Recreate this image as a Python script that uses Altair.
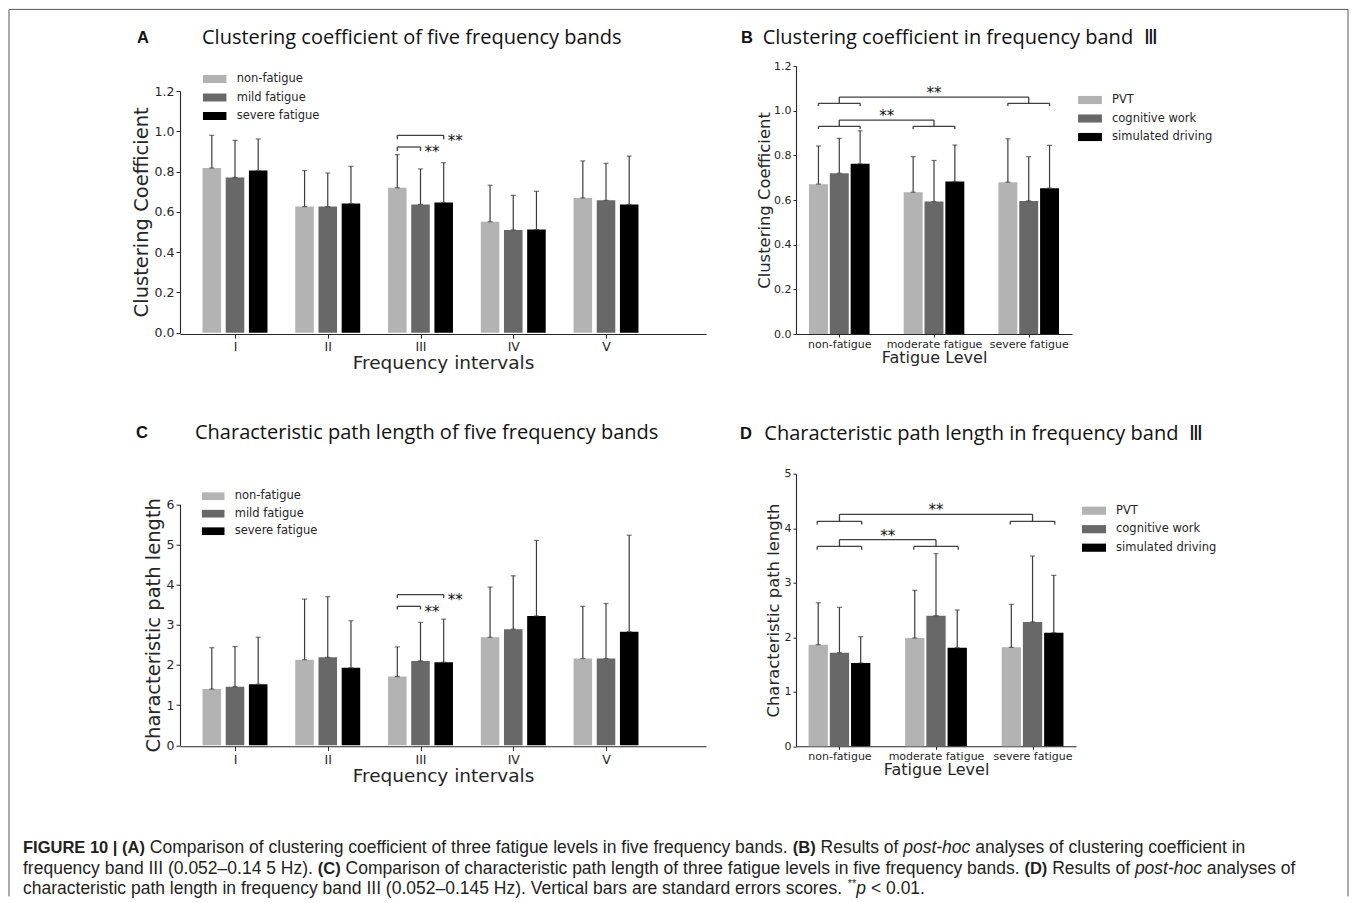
import json
import altair as alt
import pandas as pd

# ---------------------------------------------------------------- data
bands = ["I", "II", "III", "IV", "V"]
fatigue_levels = ["non-fatigue", "mild fatigue", "severe fatigue"]

# (A) clustering coefficient: mean and standard error, bands I..V
cc_non_mean = [0.818, 0.626, 0.720, 0.551, 0.669]
cc_non_se = [0.162, 0.179, 0.164, 0.181, 0.184]
cc_mild_mean = [0.770, 0.626, 0.637, 0.510, 0.657]
cc_mild_se = [0.185, 0.167, 0.176, 0.172, 0.184]
cc_severe_mean = [0.805, 0.641, 0.646, 0.512, 0.636]
cc_severe_se = [0.157, 0.185, 0.198, 0.190, 0.241]

# (C) characteristic path length: mean and standard error, bands I..V
pl_non_mean = [1.40, 2.13, 1.71, 2.69, 2.16]
pl_non_se = [1.03, 1.51, 0.74, 1.25, 1.30]
pl_mild_mean = [1.46, 2.19, 2.10, 2.89, 2.16]
pl_mild_se = [1.00, 1.51, 0.96, 1.33, 1.37]
pl_severe_mean = [1.52, 1.93, 2.07, 3.22, 2.83]
pl_severe_se = [1.17, 1.17, 1.07, 1.88, 2.40]

# (B), (D) frequency band III by fatigue level and task
levels3 = ["non-fatigue", "moderate fatigue", "severe fatigue"]
tasks = ["PVT", "cognitive work", "simulated driving"]
ccIII_pvt_mean = [0.671, 0.635, 0.680]
ccIII_pvt_se = [0.171, 0.159, 0.194]
ccIII_cog_mean = [0.720, 0.593, 0.596]
ccIII_cog_se = [0.156, 0.184, 0.198]
ccIII_sim_mean = [0.762, 0.683, 0.653]
ccIII_sim_se = [0.148, 0.163, 0.192]
plIII_pvt_mean = [1.864, 1.987, 1.815]
plIII_pvt_se = [0.770, 0.874, 0.789]
plIII_cog_mean = [1.718, 2.396, 2.280]
plIII_cog_se = [0.831, 1.137, 1.210]
plIII_sim_mean = [1.528, 1.809, 2.084]
plIII_sim_se = [0.483, 0.691, 1.052]

# significance marks
sig_label = "**"
# within band III: (series a, series b, bracket level)
sig_A = [("non-fatigue", "severe fatigue", 0.980), ("non-fatigue", "mild fatigue", 0.922)]
sig_C = [("non-fatigue", "severe fatigue", 3.75), ("non-fatigue", "mild fatigue", 3.46)]
# between fatigue levels: (level a, level b, sub-bracket level, top level)
sig_B = [("non-fatigue", "severe fatigue", 1.033, 1.061),
         ("non-fatigue", "moderate fatigue", 0.930, 0.958)]
sig_D = [("non-fatigue", "severe fatigue", 4.126, 4.254),
         ("non-fatigue", "moderate fatigue", 3.667, 3.790)]

titles = {
    "A": "Clustering coefficient of five frequency bands",
    "B": "Clustering coefficient in frequency band\u00a0 \u2162",
    "C": "Characteristic path length of five frequency bands",
    "D": "Characteristic path length in frequency band\u00a0 \u2162",
}

caption_lines = [
    [("bold", "FIGURE 10 | (A)"),
     ("regular", "Comparison of clustering coefficient of three fatigue levels in five frequency bands."),
     ("bold", "(B)"), ("regular", "Results of"), ("italic", "post-hoc"),
     ("regular", "analyses of clustering coefficient in")],
    [("regular", "frequency band III (0.052\u20130.14 5 Hz)."), ("bold", "(C)"),
     ("regular", "Comparison of characteristic path length of three fatigue levels in five frequency bands."),
     ("bold", "(D)"), ("regular", "Results of"), ("italic", "post-hoc"), ("regular", "analyses of")],
    [("regular", "characteristic path length in frequency band III (0.052\u20130.145 Hz). Vertical bars are standard errors scores."),
     ("sup", "**"), ("italic", "p"), ("regular", "< 0.01.")],
]

# ---------------------------------------------------------------- style / layout
GREYS = ["#b3b3b3", "#686868", "#000000"]
FONT = "DejaVu Sans"
TITLE_FONT = "Open Sans"
INK = "#262626"
ERR = "#3c3c3c"
RECT = "M-1,-0.34H1V0.34H-1Z"

# caption typography (Liberation Sans = Arial metrics, widths per 1000 em)
CAP_FONT = "Liberation Sans"
CAP_SIZE = {"regular": 17.5, "italic": 17.5, "bold": 16.5, "sup": 11}
_REG = {" ": 278, "(": 333, ")": 333, ".": 278, "-": 333, "\u2013": 556, "|": 260,
        "<": 584, "*": 389, ",": 278}
for _c in "0123456789":
    _REG[_c] = 556
_REG.update({"A": 667, "B": 667, "C": 722, "D": 722, "E": 667, "F": 611, "G": 778,
             "H": 722, "I": 278, "R": 722, "U": 722, "V": 667,
             "a": 556, "b": 556, "c": 500, "d": 556, "e": 556, "f": 278, "g": 556,
             "h": 556, "i": 222, "k": 500, "l": 222, "m": 833, "n": 556, "o": 556,
             "p": 556, "q": 556, "r": 333, "s": 500, "t": 278, "u": 556, "v": 500,
             "w": 722, "y": 500, "z": 500})
_BOLD = dict(_REG)
_BOLD.update({"A": 722, "B": 722, "C": 722, "D": 722, "|": 280})


def text_width(txt, style):
    table = _BOLD if style == "bold" else _REG
    return sum(table.get(ch, 556) for ch in txt) / 1000.0 * CAP_SIZE[style]


# page positions for the caption and the frame (caption cell origin on the page)
CAP_X0, CAP_Y0 = 179, 885
CAP_LEFT = 22
cap_line_y = [846.7, 867.3, 887.7]


def grouped_df(groups, series, means, ses, step, bar_w):
    rows = []
    for k, name in enumerate(series):
        for i, g in enumerate(groups):
            pos = i + (k - 1) * step
            rows.append(dict(series=name, group=g, pos=pos,
                             x0=pos - bar_w / 2, x1=pos + bar_w / 2,
                             base=0.0, mean=means[k][i], top=means[k][i] + ses[k][i]))
    return pd.DataFrame(rows)


def within_brackets(series, sig, step, band_index, tick):
    segs, stars = [], []
    off = {s: (k - 1) * step for k, s in enumerate(series)}
    for a, b, lev in sig:
        xa, xb = band_index + off[a], band_index + off[b]
        segs += [dict(x=xa, x2=xb, y=lev, y2=lev),
                 dict(x=xa, x2=xa, y=lev, y2=lev - tick),
                 dict(x=xb, x2=xb, y=lev, y2=lev - tick)]
        stars.append(dict(x=xb, y=lev, t=sig_label))
    return pd.DataFrame(segs), pd.DataFrame(stars)


def between_brackets(groups, sig, half, tick):
    segs, stars = [], []
    for a, b, low, high in sig:
        ga, gb = groups.index(a), groups.index(b)
        for g in (ga, gb):
            segs += [dict(x=g - half, x2=g + half, y=low, y2=low),
                     dict(x=g - half, x2=g - half, y=low, y2=low - tick),
                     dict(x=g + half, x2=g + half, y=low, y2=low - tick),
                     dict(x=g, x2=g, y=low, y2=high)]
        segs.append(dict(x=ga, x2=gb, y=high, y2=high))
        stars.append(dict(x=(ga + gb) / 2, y=high, t=sig_label))
    return pd.DataFrame(segs), pd.DataFrame(stars)


def panel(df, groups, series, cfg, br_df, st_df, letter, title):
    xaxis = alt.Axis(values=list(range(len(groups))),
                     labelExpr=json.dumps(groups) + "[datum.value]",
                     title=cfg["xtitle"], grid=False, labelFlush=False, labelOverlap=False,
                     tickSize=cfg["tick"], tickColor=INK, tickWidth=1, domainColor=INK,
                     domainWidth=1.1, labelFont=FONT, labelFontSize=cfg["fs_tick"],
                     labelColor=INK, labelPadding=cfg["xlp"], titleFont=FONT,
                     titleFontSize=cfg["fs_xtitle"], titleFontWeight="normal",
                     titleColor=INK, titlePadding=cfg["xtp"])
    yaxis = alt.Axis(values=cfg["yvals"], format=cfg["yfmt"], title=cfg["ytitle"],
                     grid=False, labelFlush=False, labelOverlap=False,
                     tickSize=cfg["tick"], tickColor=INK, tickWidth=1, domainColor=INK,
                     domainWidth=1.1, labelFont=FONT, labelFontSize=cfg["fs_tick"],
                     labelColor=INK, labelPadding=2, titleFont=FONT,
                     titleFontSize=cfg["fs_ytitle"], titleFontWeight="normal",
                     titleColor=INK, titlePadding=cfg["ytp"])
    xs = alt.Scale(domain=cfg["xdom"], nice=False, zero=False)
    ysk = dict(domain=cfg["ydom"], nice=False, zero=False)
    if cfg.get("yrange"):
        ysk["range"] = cfg["yrange"]
    ys = alt.Scale(**ysk)

    def X(f):
        return alt.X(f"{f}:Q", scale=xs, axis=xaxis)

    def Y(f):
        return alt.Y(f"{f}:Q", scale=ys, axis=yaxis)

    legend = alt.Legend(orient="none", legendX=cfg["legx"], legendY=cfg["legy"], title=None,
                        symbolType=RECT, symbolSize=cfg["symsize"], symbolStrokeWidth=0,
                        labelFont=FONT, labelFontSize=11.5, labelColor=INK,
                        rowPadding=cfg["rowpad"], labelOffset=cfg["laboff"], padding=0)
    base = alt.Chart(df)
    bars = base.mark_bar().encode(
        x=X("x0"), x2="x1", y=Y("mean"), y2="base",
        color=alt.Color("series:N", scale=alt.Scale(domain=series, range=GREYS),
                        sort=series, legend=legend))
    err = base.mark_rule(color=ERR, strokeWidth=1.2).encode(x=X("pos"), y=Y("mean"), y2="top")
    cap_top = base.mark_tick(orient="horizontal", size=5, thickness=1.2, color=ERR).encode(
        x=X("pos"), y=Y("top"))
    cap_bot = base.mark_tick(orient="horizontal", size=5, thickness=1.2, color=ERR).encode(
        x=X("pos"), y=Y("mean"))
    br = alt.Chart(br_df).mark_rule(color="#404040", strokeWidth=1.3).encode(
        x=X("x"), x2="x2", y=Y("y"), y2="y2")
    st = alt.Chart(st_df).mark_text(font=FONT, fontSize=15, color="#111111",
                                    align=cfg["star_align"], baseline="alphabetic",
                                    dx=cfg["star_dx"], dy=cfg["star_dy"]).encode(
        x=X("x"), y=Y("y"), text="t:N")
    let = alt.Chart(pd.DataFrame({"t": [letter]})).mark_text(
        font="Liberation Sans", fontWeight="bold", fontSize=16.5, color="#111111",
        align="center", baseline="middle").encode(
        x=alt.value(cfg["letter_xy"][0]), y=alt.value(cfg["letter_xy"][1]), text="t:N")
    ttl = alt.Chart(pd.DataFrame({"t": [title]})).mark_text(
        font=TITLE_FONT, fontSize=20, color="#111111", align="left", baseline="middle").encode(
        x=alt.value(cfg["title_xy"][0]), y=alt.value(cfg["title_xy"][1]), text="t:N")
    return alt.layer(bars, err, cap_top, cap_bot, br, st, let, ttl).properties(
        width=cfg["width"], height=cfg["height"])


# ---- panel A
dfA = grouped_df(bands, fatigue_levels,
                 [cc_non_mean, cc_mild_mean, cc_severe_mean],
                 [cc_non_se, cc_mild_se, cc_severe_se], 0.25, 0.2)
brA, stA = within_brackets(fatigue_levels, sig_A, 0.25, bands.index("III"), 0.02)
cfgA = dict(xdom=[-0.593, 5.078], ydom=[0, 1.2], yrange=[266.7, 25], width=526, height=268,
            yvals=[0, 0.2, 0.4, 0.6, 0.8, 1.0, 1.2], yfmt=".1f",
            xtitle="Frequency intervals", ytitle="Clustering Coefficient",
            fs_tick=12.5, fs_xtitle=18.5, fs_ytitle=19.5, tick=4, xlp=2.5, xtp=0, ytp=2.5,
            legx=22.7, legy=1, symsize=552, rowpad=0.5, laboff=10,
            star_align="left", star_dx=4, star_dy=10.5,
            letter_xy=(-37, -28.3), title_xy=(22, -28.3))
A = panel(dfA, bands, fatigue_levels, cfgA, brA, stA, "A", titles["A"])

# ---- panel B
dfB = grouped_df(levels3, tasks,
                 [ccIII_pvt_mean, ccIII_cog_mean, ccIII_sim_mean],
                 [ccIII_pvt_se, ccIII_cog_se, ccIII_sim_se], 0.22, 0.2)
brB, stB = between_brackets(levels3, sig_B, 0.22, 0.012)
cfgB = dict(xdom=[-0.457, 2.457], ydom=[0, 1.2], width=276, height=268,
            yvals=[0, 0.2, 0.4, 0.6, 0.8, 1.0, 1.2], yfmt=".1f",
            xtitle="Fatigue Level", ytitle="Clustering Coefficient",
            fs_tick=11, fs_xtitle=16, fs_ytitle=16.4, tick=3, xlp=1, xtp=0.5, ytp=1,
            legx=282, legy=22, symsize=570, rowpad=0.5, laboff=10,
            star_align="center", star_dx=0, star_dy=1,
            letter_xy=(-49, -28.3), title_xy=(-33.3, -28.3))
B = panel(dfB, levels3, tasks, cfgB, brB, stB, "B", titles["B"])

# ---- panel C
dfC = grouped_df(bands, fatigue_levels,
                 [pl_non_mean, pl_mild_mean, pl_severe_mean],
                 [pl_non_se, pl_mild_se, pl_severe_se], 0.25, 0.2)
brC, stC = within_brackets(fatigue_levels, sig_C, 0.25, bands.index("III"), 0.08)
cfgC = dict(xdom=[-0.593, 5.078], ydom=[0, 6], yrange=[271.6, 30.6], width=526, height=272.6,
            yvals=[0, 1, 2, 3, 4, 5, 6], yfmt="d",
            xtitle="Frequency intervals", ytitle="Characteristic path length",
            fs_tick=12.5, fs_xtitle=18.5, fs_ytitle=19.5, tick=4, xlp=3.5, xtp=0, ytp=3,
            legx=21.7, legy=11, symsize=510, rowpad=0.5, laboff=10,
            star_align="left", star_dx=4, star_dy=10.5,
            letter_xy=(-38, -41), title_xy=(15, -41))
C = panel(dfC, bands, fatigue_levels, cfgC, brC, stC, "C", titles["C"])

# ---- panel D
dfD = grouped_df(levels3, tasks,
                 [plIII_pvt_mean, plIII_cog_mean, plIII_sim_mean],
                 [plIII_pvt_se, plIII_cog_se, plIII_sim_se], 0.22, 0.2)
brD, stD = between_brackets(levels3, sig_D, 0.23, 0.06)
cfgD = dict(xdom=[-0.45, 2.45], ydom=[0, 5], width=280, height=272.6,
            yvals=[0, 1, 2, 3, 4, 5], yfmt="d",
            xtitle="Fatigue Level", ytitle="Characteristic path length",
            fs_tick=11, fs_xtitle=16, fs_ytitle=16.4, tick=3, xlp=1, xtp=0.5, ytp=3,
            legx=286, legy=25, symsize=576, rowpad=0.5, laboff=10,
            star_align="center", star_dx=0, star_dy=1,
            letter_xy=(-50, -40), title_xy=(-31.7, -40))
D = panel(dfD, levels3, tasks, cfgD, brD, stD, "D", titles["D"])

# ---- caption (segments chained with Arial-metric widths) + frame
cap_rows = []
for li, segs in enumerate(caption_lines):
    x = CAP_LEFT
    prev = None
    for style, txt in segs:
        if prev is not None and prev != "sup":
            x += text_width(" ", "regular")
        cap_rows.append(dict(style=style, t=txt, x=x - CAP_X0,
                             y=cap_line_y[li] - CAP_Y0 - (5 if style == "sup" else 0)))
        x += text_width(txt, style)
        prev = style
cap_df = pd.DataFrame(cap_rows)
capbase = alt.Chart(cap_df)


def cap_layer(style, **kw):
    return capbase.transform_filter(alt.datum.style == style).mark_text(
        font=CAP_FONT, fontSize=CAP_SIZE[style], align="left", baseline="middle",
        color="#231f20", **kw).encode(
        x=alt.X("x:Q", scale=None, axis=None), y=alt.Y("y:Q", scale=None, axis=None), text="t:N")


frame_df = pd.DataFrame({
    "x": [8 - CAP_X0, 8 - CAP_X0, 1347 - CAP_X0],
    "x2": [8 - CAP_X0, 1347 - CAP_X0, 1347 - CAP_X0],
    "y": [8 - CAP_Y0, 8 - CAP_Y0, 8 - CAP_Y0],
    "y2": [895 - CAP_Y0, 8 - CAP_Y0, 895 - CAP_Y0],
})
frame = alt.Chart(frame_df).mark_rule(color="#555555", strokeWidth=1).encode(
    x=alt.X("x:Q", scale=None, axis=None), x2="x2",
    y=alt.Y("y:Q", scale=None, axis=None), y2="y2")

caption = alt.layer(
    frame,
    cap_layer("regular"),
    cap_layer("bold", fontWeight="bold"),
    cap_layer("italic", fontStyle="italic"),
    cap_layer("sup"),
).properties(width=526, height=1)

chart = alt.concat(
    A, B, C, D, caption, columns=2,
    spacing={"row": 139.7, "column": 90}, bounds="flush", align="each",
).resolve_scale(color="independent").resolve_legend(color="independent").properties(
    padding=0).configure_view(stroke=None)

chart.save("out.html", embed_options={"renderer": "svg", "actions": False})
